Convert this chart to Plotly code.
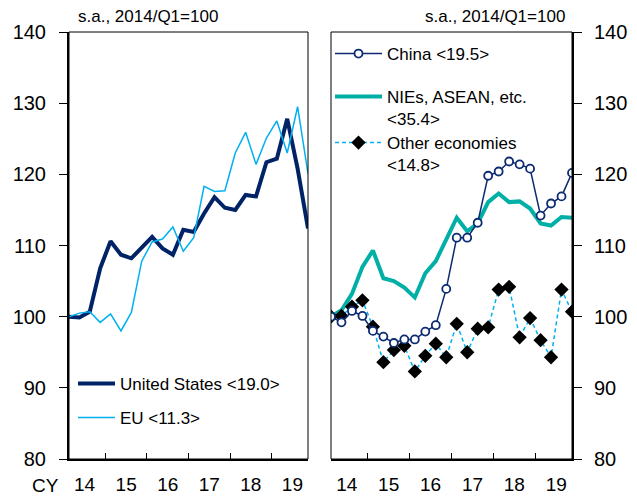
import plotly.graph_objects as go

quarters = ["2014Q1", "2014Q2", "2014Q3", "2014Q4",
            "2015Q1", "2015Q2", "2015Q3", "2015Q4",
            "2016Q1", "2016Q2", "2016Q3", "2016Q4",
            "2017Q1", "2017Q2", "2017Q3", "2017Q4",
            "2018Q1", "2018Q2", "2018Q3", "2018Q4",
            "2019Q1", "2019Q2", "2019Q3", "2019Q4"]

united_states = [100.0, 99.9, 100.7, 106.8, 110.6, 108.7, 108.2, 109.7, 111.2, 109.6,
                 108.7, 112.2, 111.9, 114.5, 116.8, 115.3, 115.0, 117.1, 116.9, 121.7,
                 122.2, 127.8, 120.8, 112.4]
eu = [100.0, 100.5, 100.7, 99.2, 100.4, 98.0, 100.6, 107.8, 110.5, 110.9,
      112.6, 109.2, 111.1, 118.3, 117.6, 117.7, 123.0, 125.9, 121.4, 125.1,
      127.5, 123.0, 129.5, 120.1]
china = [100.0, 99.2, 100.8, 100.1, 98.0, 97.2, 96.3, 96.8, 96.8, 97.9,
         98.8, 103.9, 111.1, 111.1, 113.2, 119.8, 120.4, 121.8, 121.4, 120.8,
         114.2, 115.9, 116.9, 120.2]
nies_asean = [100.0, 100.9, 103.2, 107.0, 109.3, 105.4, 105.0, 104.1, 102.7, 106.1,
              107.8, 110.7, 113.9, 112.0, 113.1, 116.1, 117.3, 116.1, 116.2, 115.2,
              113.1, 112.8, 114.0, 113.9]
other_economies = [100.0, 100.1, 101.4, 102.3, 98.6, 93.6, 95.3, 95.9, 92.3, 94.5,
                   96.2, 94.3, 99.0, 95.0, 98.3, 98.5, 103.8, 104.2, 97.1, 99.8,
                   96.7, 94.3, 103.8, 100.7]

year_labels = ["14", "15", "16", "17", "18", "19"]
y_ticks = [80, 90, 100, 110, 120, 130, 140]

names = {
    "us": "United States <19.0>",
    "eu": "EU <11.3>",
    "china": "China <19.5>",
    "nies": "NIEs, ASEAN, etc.<br><35.4>",
    "other": "Other economies<br><14.8>",
}

x = [int(q[:4]) + (int(q[-1]) - 1) / 4 for q in quarters]
years = sorted(set(int(q[:4]) for q in quarters))
label_pos = [y + 0.375 for y in years]
boundary_pos = [y + 0.875 for y in years[:-1]]

FONT = "Liberation Sans, Arial, sans-serif"
NAVY = "#002266"
LIGHT = "#00B0F0"
TEAL = "#00AFA5"
CHINA = "#0D2B72"

fig = go.Figure()
fig.add_trace(go.Scatter(x=x, y=united_states, name=names["us"], mode="lines",
                         line=dict(color=NAVY, width=4), xaxis="x", yaxis="y",
                         legend="legend"))
fig.add_trace(go.Scatter(x=x, y=eu, name=names["eu"], mode="lines",
                         line=dict(color=LIGHT, width=1.5), xaxis="x", yaxis="y",
                         legend="legend2"))
fig.add_trace(go.Scatter(x=x, y=nies_asean, name=names["nies"], mode="lines",
                         line=dict(color=TEAL, width=4), xaxis="x2", yaxis="y2",
                         legend="legend4"))
fig.add_trace(go.Scatter(x=x, y=other_economies, name=names["other"], mode="lines+markers",
                         line=dict(color=LIGHT, width=1.5, dash="4px,3px"),
                         marker=dict(symbol="diamond", size=11, color="black"),
                         xaxis="x2", yaxis="y2", legend="legend5"))
fig.add_trace(go.Scatter(x=x, y=china, name=names["china"], mode="lines+markers",
                         line=dict(color=CHINA, width=1.5),
                         marker=dict(symbol="circle", size=8, color="white",
                                     line=dict(color=CHINA, width=1.8)),
                         xaxis="x2", yaxis="y2", legend="legend3"))

W, H = 637, 497
ml, mr, mt, mb = 69, 65, 32, 38
pw, ph = W - ml - mr, H - mt - mb


def px(v):
    return (v - ml) / pw


def py(v):
    return (H - mb - v) / ph


xcommon = dict(range=[x[0], x[-1]], tickmode="array", tickvals=label_pos,
               ticktext=year_labels, ticks="", showline=True, linecolor="black",
               linewidth=2, showgrid=False, zeroline=False, ticklabelstandoff=7,
               automargin=False,
               tickfont=dict(size=19, color="black", family=FONT),
               minor=dict(tickmode="array", tickvals=boundary_pos, ticks="inside",
                          ticklen=6, tickwidth=1, tickcolor="black", showgrid=False))
ycommon = dict(range=[80, 140], tickmode="array", tickvals=y_ticks, ticks="outside",
               ticklen=8, tickwidth=1, tickcolor="black", showline=True,
               linecolor="black", linewidth=2, showgrid=False, zeroline=False,
               automargin=False,
               tickfont=dict(size=20, color="black", family=FONT))

legend_common = dict(bgcolor="rgba(0,0,0,0)", borderwidth=0, xanchor="left",
                     yanchor="top", valign="top",
                     font=dict(size=17, color="black", family=FONT))

fig.update_layout(
    width=W, height=H,
    margin=dict(l=ml, r=mr, t=mt, b=mb, autoexpand=False),
    paper_bgcolor="white", plot_bgcolor="white",
    font=dict(family=FONT, color="black"),
    xaxis=dict(domain=[0, px(308)], anchor="y", **xcommon),
    yaxis=dict(domain=[0, 1], anchor="x", side="left", ticklabelstandoff=9, **ycommon),
    xaxis2=dict(domain=[px(331), 1], anchor="y2", **xcommon),
    yaxis2=dict(domain=[0, 1], anchor="x2", side="right", ticklabelstandoff=8, **ycommon),
    legend=dict(x=px(73), y=py(366), itemwidth=37, **legend_common),
    legend2=dict(x=px(73), y=py(400), itemwidth=37, **legend_common),
    legend3=dict(x=px(330), y=py(36), itemwidth=47, **legend_common),
    legend4=dict(x=px(330), y=py(79), itemwidth=47, **legend_common),
    legend5=dict(x=px(330), y=py(125), itemwidth=47, **legend_common),
    showlegend=True,
)

for xr, yr in (("x", "y"), ("x2", "y2")):
    fig.add_shape(type="rect", xref=f"{xr} domain", yref=f"{yr} domain",
                  x0=0, x1=1, y0=0, y1=1, line=dict(color="black", width=1),
                  layer="above")

fig.add_annotation(x=px(76), y=py(17), xref="paper", yref="paper", xanchor="left",
                   yanchor="middle", text="s.a., 2014/Q1=100", showarrow=False,
                   font=dict(size=17, color="black", family=FONT))
fig.add_annotation(x=px(567), y=py(17), xref="paper", yref="paper", xanchor="right",
                   yanchor="middle", text="s.a., 2014/Q1=100", showarrow=False,
                   font=dict(size=17, color="black", family=FONT))
fig.add_annotation(x=px(45), y=py(485), xref="paper", yref="paper", xanchor="center",
                   yanchor="middle", text="CY", showarrow=False,
                   font=dict(size=19, color="black", family=FONT))

fig.write_html("out.html", config={"displayModeBar": False},
               post_script="document.body.style.margin='0';document.body.style.overflow='hidden';")
